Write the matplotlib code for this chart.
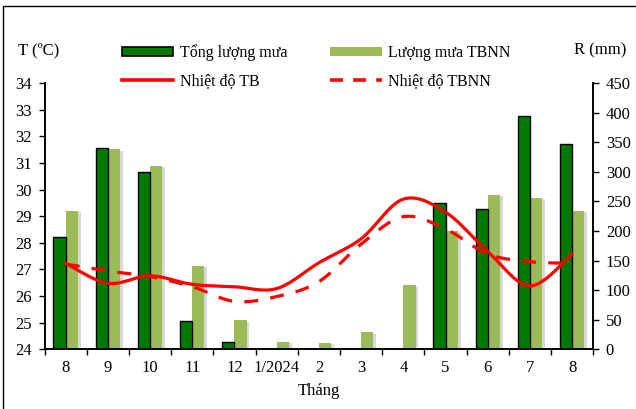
import numpy as np
import matplotlib
matplotlib.use("Agg")
import matplotlib.pyplot as plt
from matplotlib.patches import Rectangle, Patch
from matplotlib.lines import Line2D
import matplotlib.patheffects as pe

plt.rcParams['font.family'] = ['Liberation Serif', 'DejaVu Serif']

months = ["8", "9", "10", "11", "12", "1/2024", "2", "3", "4", "5", "6", "7", "8"]
rain_total = [190, 341, 300, 48, 12, 0, 0, 0, 0, 247, 237, 394, 347]
rain_normal = [234, 338, 310, 141, 49, 13, 11, 29, 108, 200, 261, 256, 234]
temp_mean = [27.23, 26.48, 26.76, 26.44, 26.35, 26.28, 27.25, 28.15, 29.64, 29.15, 27.67, 26.38, 27.58]
temp_normal = [27.2, 26.94, 26.73, 26.35, 25.8, 25.98, 26.54, 27.95, 28.98, 28.52, 27.58, 27.29, 27.23]

DARK = '#007A00'
LIGHT = '#9BBB59'
RED = '#FF0000'


def smooth(xs, ys, n=30):
    p = np.column_stack([xs, ys]).astype(float)
    out = []
    for i in range(len(p) - 1):
        p0 = p[i - 1] if i > 0 else p[i]
        p1, p2 = p[i], p[i + 1]
        p3 = p[i + 2] if i + 2 < len(p) else p[i + 1]
        c1 = p1 + (p2 - p0) / 6.0
        c2 = p2 - (p3 - p1) / 6.0
        t = np.linspace(0, 1, n)[:, None]
        seg = ((1 - t) ** 3) * p1 + 3 * ((1 - t) ** 2) * t * c1 + 3 * (1 - t) * t ** 2 * c2 + t ** 3 * p2
        out.append(seg if i == 0 else seg[1:])
    a = np.vstack(out)
    return a[:, 0], a[:, 1]


fig = plt.figure(figsize=(6.36, 4.09), dpi=100)
W, H = 636, 409
ax = fig.add_axes([44.5 / W, (H - 349.3) / H, (593.3 - 44.5) / W, (349.3 - 83) / H])
ax2 = ax.twinx()

x = np.arange(len(months))
bw = 0.29
ax2.bar(x - bw / 2, rain_total, width=bw, color=DARK, edgecolor='black', linewidth=1.0, zorder=2)
ax2.bar(x + bw / 2, rain_normal, width=bw, color=LIGHT, linewidth=0, zorder=1,
        path_effects=[pe.SimplePatchShadow(offset=(2, -1), shadow_rgbFace='#808080', alpha=0.3), pe.Normal()])
ax2.set_ylim(0, 450)
ax2.set_yticks(np.arange(0, 451, 50))

ax.set_zorder(ax2.get_zorder() + 1)
ax.patch.set_visible(False)
sx, sy = smooth(x, temp_mean)
ax.plot(sx, sy, color=RED, lw=2.3, solid_capstyle='round')
dx, dy = smooth(x, temp_normal)
ax.plot(dx, dy, color=RED, lw=2.3, linestyle=(0, (4.4, 3.8)))

ax.set_ylim(24, 34)
ax.set_yticks(np.arange(24, 35, 1))
ax.set_xlim(-0.5, len(months) - 0.5)
ax.set_xticks(x)
ax.set_xticklabels(months)
ax.set_xticks(np.arange(-0.5, len(months), 1.0), minor=True)
ax.tick_params(axis='x', which='major', length=0, pad=7.5, labelsize=12)
ax.tick_params(axis='x', which='minor', length=4, width=1, direction='out')
ax.tick_params(axis='y', length=4, width=1, direction='out', labelsize=12, pad=5)
ax2.tick_params(axis='y', length=4, width=1, direction='out', labelsize=12, pad=5)

for a in (ax, ax2):
    a.spines['top'].set_visible(False)
    for s in ('left', 'right', 'bottom'):
        a.spines[s].set_linewidth(1.2)

ax.set_xlabel('Tháng', fontsize=12, labelpad=5)

fig.text(18 / W, 1 - 50 / H, 'T (ºC)', fontsize=12, va='center', ha='left')
fig.text(626 / W, 1 - 50 / H, 'R (mm)', fontsize=12, va='center', ha='right')

handles = [Patch(facecolor=DARK, edgecolor='black', linewidth=1.2),
           Line2D([], [], color=RED, lw=2.6),
           Patch(facecolor=LIGHT, edgecolor='none'),
           Line2D([], [], color=RED, lw=2.6, linestyle=(0, (3.6, 2.8)))]
labels = ['Tổng lượng mưa', 'Nhiệt độ TB', 'Lượng mưa TBNN', 'Nhiệt độ TBNN']
fig.legend(handles, labels, ncol=2, frameon=False, loc='upper left',
           bbox_to_anchor=(122 / W, 1 - 44.5 / H), borderpad=0, borderaxespad=0,
           fontsize=11.5, handlelength=3.2, handleheight=0.45, handletextpad=0.42,
           columnspacing=2.7, labelspacing=0.75)

fig.patches.append(Rectangle((3 / W, -0.1), 1.2, (H - 6) / H + 0.1, transform=fig.transFigure,
                             fill=False, edgecolor='black', linewidth=1.0))

fig.savefig('out.png', dpi=100)
